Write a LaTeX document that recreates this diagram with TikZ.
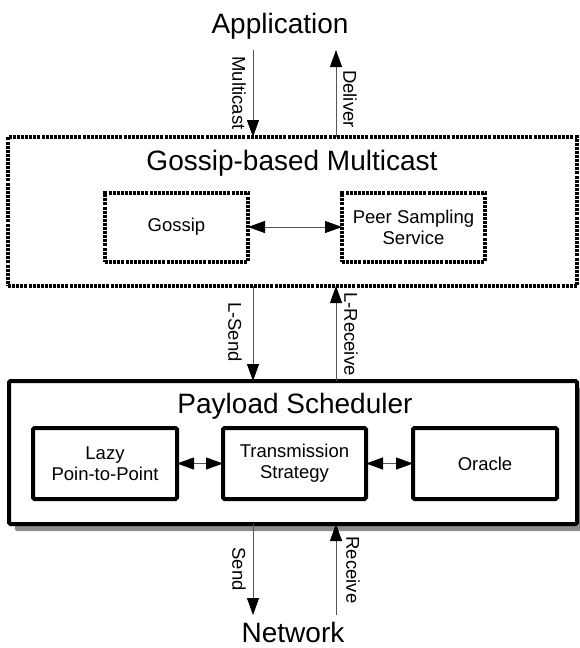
\documentclass[tikz,border=0pt]{standalone}
\usepackage{fontspec}
\setmainfont{Liberation Sans}
\usetikzlibrary{positioning,arrows.meta,shadows}
\definecolor{FlowGray}{RGB}{85,85,85}
\definecolor{ShadowGray}{RGB}{140,140,140}
\tikzset{
  layer/.style={draw=black,line width=4pt,dash pattern=on 3pt off 1.1pt,
    inner sep=0pt,outer sep=0pt,align=center,font=\fontsize{18.5}{21}\selectfont},
  solidbox/.style={draw=black,fill=white,line width=4pt,rounded corners=1.5pt,
    inner sep=0pt,outer sep=0pt,align=center,font=\fontsize{18.5}{21}\selectfont},
  title/.style={font=\fontsize{28}{32}\selectfont,inner sep=0pt,anchor=base},
  flow/.style={draw=FlowGray,line width=1pt,-{Triangle[length=17pt,width=12pt,color=black]}},
  both/.style={draw=FlowGray,line width=1pt,
    {Triangle[length=17pt,width=12pt,color=black]}-{Triangle[length=17pt,width=12pt,color=black]}},
  lbl/.style={rotate=-90,font=\fontsize{18.5}{21}\selectfont,inner sep=0pt},
}

\begin{document}
\begin{tikzpicture}[x=1pt,y=-1pt]
\useasboundingbox (0,0) rectangle (579,648);
% end points
\node[title] (app) at (280,33) {Application};
\node[title] (net) at (293,642) {Network};
% gossip layer
\node[layer,minimum width=569pt,minimum height=149pt] (gbm) at (292.5,211.5) {};
\node[title] (gbm-t) at (292,170) {Gossip-based Multicast};
\node[layer,minimum width=143pt,minimum height=69pt] (gossip) at (176.5,227) {Gossip};
\node[layer,minimum width=143pt,minimum height=69pt] (pss) at (413.5,227) {Peer Sampling\\Service};
\draw[both] (gossip) -- (pss);
% scheduler layer
\node[solidbox,minimum width=568pt,minimum height=143pt,
  drop shadow={shadow xshift=6pt,shadow yshift=-7pt,fill=ShadowGray,opacity=1}] (ps) at (293,452.5) {};
\node[title] (ps-t) at (295,413) {Payload Scheduler};
\node[solidbox,minimum width=144pt,minimum height=71pt] (lazy) at (105,463.5) {Lazy\\Poin-to-Point};
\node[solidbox,minimum width=143pt,minimum height=71pt] (trans) at (294.5,463.5) {Transmission\\Strategy};
\node[solidbox,minimum width=144pt,minimum height=71pt] (oracle) at (485,463.5) {Oracle};
\draw[both] (lazy) -- (trans);
\draw[both] (trans) -- (oracle);
% vertical flows
\coordinate (tx) at (253,50);
\coordinate (rx) at (336,50);
\coordinate (tx-end) at (253,615);
\coordinate (rx-end) at (336,615);
\draw[flow] (tx) -- (tx |- gbm.north);
\draw[flow] (rx |- gbm.north) -- (rx);
\draw[flow] (gbm.south -| tx) -- (ps.north -| tx);
\draw[flow] (ps.north -| rx) -- (gbm.south -| rx);
\draw[flow] (ps.south -| tx-end) -- (tx-end);
\draw[flow] (rx-end) -- (ps.south -| rx-end);
\node[lbl] (mc-l) at (239,93) {Multicast};
\node[lbl] (dl-l) at (350,99) {Deliver};
\node[lbl] (ls-l) at (235,332) {L-Send};
\node[lbl] (lr-l) at (351,334) {L-Receive};
\node[lbl] (sd-l) at (239,569) {Send};
\node[lbl] (rc-l) at (353,570) {Receive};
\end{tikzpicture}
\end{document}
